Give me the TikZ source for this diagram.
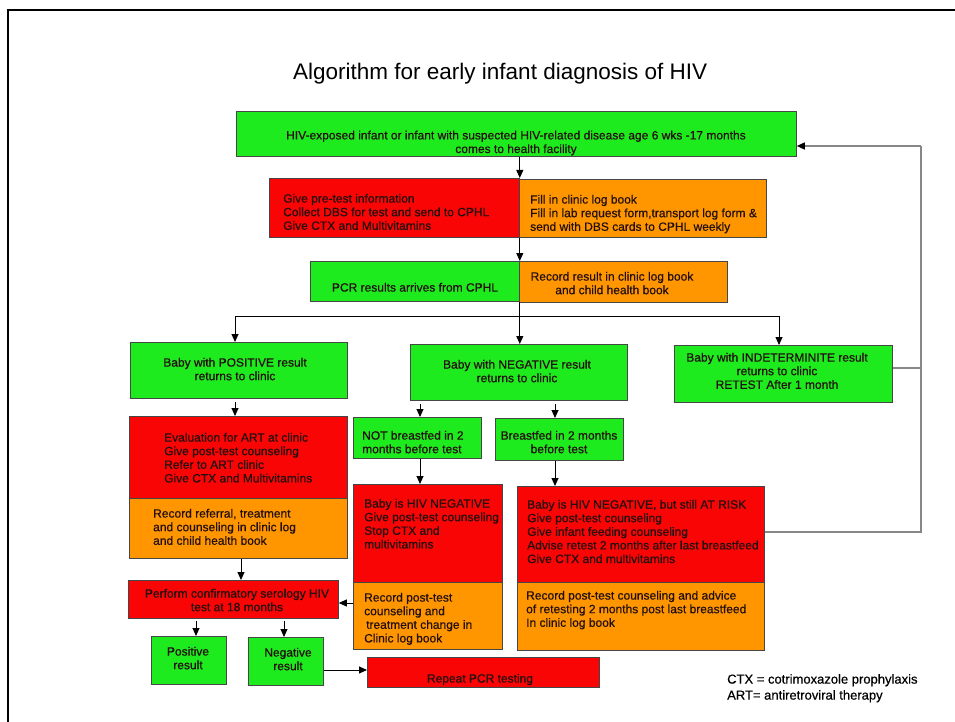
\documentclass[tikz,border=0pt]{standalone}
\usepackage{fontspec}
\setmainfont{Liberation Sans}
\newfontfamily\boxfont{Liberation Sans}[FakeBold=0.5]
\usetikzlibrary{arrows.meta,calc}
\definecolor{grn}{RGB}{30,235,30}
\definecolor{rd}{RGB}{250,5,5}
\definecolor{org}{RGB}{255,150,0}
\definecolor{edgec}{RGB}{70,70,70}
\definecolor{ink}{RGB}{35,15,15}
\definecolor{loopc}{RGB}{135,135,135}
\begin{document}
\begin{tikzpicture}[x=1pt,y=-1pt,
  box/.style={draw=edgec,line width=0.8pt,inner sep=0pt,anchor=north west},
  gbox/.style={box,fill=grn},
  rbox/.style={box,fill=rd},
  obox/.style={box,fill=org},
  txt/.style={inner sep=0pt,text=ink,font=\boxfont\fontsize{12}{13.6}\selectfont},
  ltxt/.style={txt,align=left,anchor=north west},
  ctxt/.style={txt,align=center,anchor=north},
  arr/.style={line width=0.9pt,-{Triangle[width=7pt,length=8pt]}},
  conn/.style={line width=0.9pt},
  loopl/.style={draw=loopc,line width=1.4pt}]
\useasboundingbox (0,0) rectangle (955,722);
\fill[white] (0,0) rectangle (955,722);
\draw[line width=2pt] (8,722) -- (8,10) -- (955,10);

% title
\node[inner sep=0pt,anchor=base west,font=\fontsize{22.5}{27}\selectfont] (title) at (293,80) {Algorithm for early infant diagnosis of HIV};

% boxes
\node[gbox,minimum width=560pt,minimum height=45pt] (A) at (236,111) {};
\node[rbox,minimum width=250pt,minimum height=59pt] (Br) at (269,178) {};
\node[obox,minimum width=247pt,minimum height=58pt] (Bo) at (519,179) {};
\node[gbox,minimum width=209pt,minimum height=40pt] (Cg) at (310,261) {};
\node[obox,minimum width=208pt,minimum height=41pt] (Co) at (519,261) {};
\node[gbox,minimum width=217pt,minimum height=56pt] (D1) at (130,342) {};
\node[gbox,minimum width=217pt,minimum height=56pt] (D2) at (410,344) {};
\node[gbox,minimum width=218pt,minimum height=57pt] (D3) at (674,345) {};
\node[rbox,minimum width=218pt,minimum height=82pt] (E1r) at (129,416) {};
\node[obox,minimum width=218pt,minimum height=60pt] (E1o) at (129,498) {};
\node[gbox,minimum width=128pt,minimum height=41pt] (F1) at (353,417) {};
\node[gbox,minimum width=128pt,minimum height=42pt] (F2) at (495,418) {};
\node[rbox,minimum width=149pt,minimum height=98pt] (G1r) at (353,484) {};
\node[obox,minimum width=149pt,minimum height=67pt] (G1o) at (353,582) {};
\node[rbox,minimum width=247pt,minimum height=96pt] (G2r) at (517,486) {};
\node[obox,minimum width=247pt,minimum height=68pt] (G2o) at (517,582) {};
\node[rbox,minimum width=210pt,minimum height=38pt] (H) at (128,580) {};
\node[gbox,minimum width=75pt,minimum height=48pt] (Pos) at (151,636) {};
\node[gbox,minimum width=75pt,minimum height=48pt] (Neg) at (248,637) {};
\node[rbox,minimum width=232pt,minimum height=30pt] (Rep) at (367,657) {};

% texts
\node[ctxt] (tA) at (516,130.5) {HIV-exposed infant or infant with suspected HIV-related disease age 6 wks -17 months\\comes to health facility};
\node[ltxt] (tBr) at (283,193.7) {Give pre-test information\\Collect DBS for test and send to CPHL\\Give CTX and Multivitamins};
\node[ltxt] (tBo) at (530,194.7) {Fill in clinic log book\\Fill in lab request form,transport log form \&\\send with DBS cards to CPHL weekly};
\node[ctxt] (tCg) at (415,282.7) {PCR results arrives from CPHL};
\node[ctxt] (tCo) at (612,271.7) {Record result in clinic log book\\and child health book};
\node[ctxt] (tD1) at (235,357.7) {Baby with POSITIVE result\\returns to clinic};
\node[ctxt] (tD2) at (517,359.7) {Baby with NEGATIVE result\\returns to clinic};
\node[ctxt] (tD3) at (777,352.7) {Baby with INDETERMINITE result\\returns to clinic\\RETEST After 1 month};
\node[ltxt] (tE1r) at (164,432.7) {Evaluation for ART at clinic\\Give post-test counseling\\Refer to ART clinic\\Give CTX and Multivitamins};
\node[ltxt] (tE1o) at (153,508.7) {Record referral, treatment\\and counseling in clinic log\\and child health book};
\node[ltxt] (tF1) at (362,430.7) {NOT breastfed in 2\\months before test};
\node[ctxt] (tF2) at (559,430.7) {Breastfed in 2 months\\before test};
\node[ltxt] (tG1r) at (364,498.7) {Baby is HIV NEGATIVE\\Give post-test counseling\\Stop CTX and\\multivitamins};
\node[ltxt] (tG1o) at (364,592.7) {Record post-test\\counseling and\\\hspace*{2pt}treatment change in\\Clinic log book};
\node[ltxt] (tG2r) at (527,499.7) {Baby is HIV NEGATIVE, but still AT RISK\\Give post-test counseling\\Give infant feeding counseling\\Advise retest 2 months after last breastfeed\\Give CTX and multivitamins};
\node[ltxt] (tG2o) at (526,590.7) {Record post-test counseling and advice\\of retesting 2 months post last breastfeed\\In clinic log book};
\node[ctxt] (tH) at (237,588.7) {Perform confirmatory serology HIV\\test at 18 months};
\node[ctxt] (tPos) at (188,646.7) {Positive\\result};
\node[ctxt] (tNeg) at (288,647.7) {Negative\\result};
\node[ctxt] (tRep) at (480,673.7) {Repeat PCR testing};
\node[txt,align=left,anchor=north west,font=\boxfont\fontsize{13}{16}\selectfont,text=black] (legend) at (727,674) {CTX = cotrimoxazole prophylaxis\\ART= antiretroviral therapy};

% coordinates for connector lanes
\coordinate (brL) at (235,316);
\coordinate (brR) at (779,316);
\coordinate (aF1) at (420,0);
\coordinate (aF2) at (555,0);
\coordinate (aH) at (241,0);
\coordinate (aP) at (196,0);
\coordinate (aN) at (284,0);
\coordinate (yGH) at (0,603);
\coordinate (yNR) at (0,670);
\coordinate (lpTop) at (921,146);
\coordinate (yD3) at (0,368);
\coordinate (yG2) at (0,532);

% connectors
\draw[arr] (A.south -| Br.east) -- (Br.north east);
\draw[arr] (Br.south east) -- (Cg.north east);
\draw[arr] (Cg.south east) -- (Cg.south east |- D2.north);
\draw[conn] (brL) -- (brR);
\draw[arr] (brL) -- (brL |- D1.north);
\draw[arr] (brR) -- (brR |- D3.north);
\draw[arr] ($(brL |- D1.south)+(0,3)$) -- (brL |- E1r.north);
\draw[arr] ($(aF1 |- D2.south)+(0,3)$) -- (aF1 |- F1.north);
\draw[arr] ($(aF2 |- D2.south)+(0,3)$) -- (aF2 |- F2.north);
\draw[arr] (aF1 |- F1.south) -- (aF1 |- G1r.north);
\draw[arr] (aF2 |- F2.south) -- (aF2 |- G2r.north);
\draw[arr] (aH |- E1o.south) -- (aH |- H.north);
\draw[arr] (G1o.west |- yGH) -- (H.east |- yGH);
\draw[arr] ($(aP |- H.south)+(0,2)$) -- (aP |- Pos.north);
\draw[arr] ($(aN |- H.south)+(0,2)$) -- (aN |- Neg.north);
\draw[arr] (Neg.east |- yNR) -- (Rep.west |- yNR);
\draw[loopl] (D3.east |- yD3) -- (lpTop |- yD3);
\draw[loopl] (G2r.east |- yG2) -- (lpTop |- yG2) -- (lpTop);
\draw[loopl,-{Triangle[width=7pt,length=8pt,color=black]}] (lpTop) -- (A.east |- lpTop);
\end{tikzpicture}
\end{document}
